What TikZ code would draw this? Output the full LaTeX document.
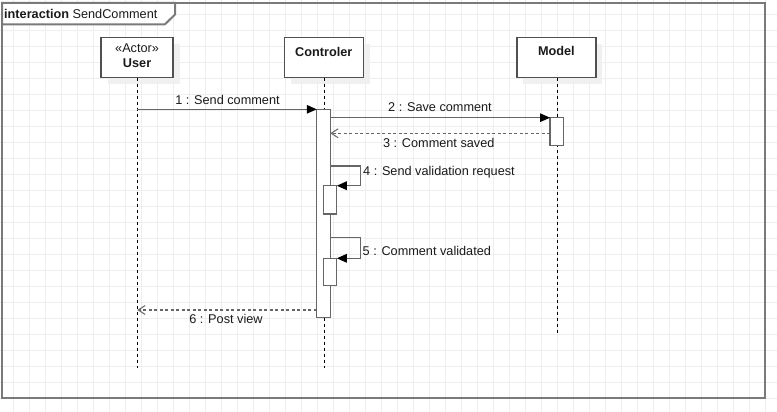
\documentclass[tikz,border=0pt]{standalone}
\usepackage{fontspec}
\setmainfont{Liberation Sans}
\usetikzlibrary{arrows.meta,shadows}
\definecolor{gridc}{HTML}{EEEEEE}
\definecolor{framec}{HTML}{7A7A7A}
\definecolor{linec}{HTML}{666666}
\definecolor{boxc}{HTML}{505050}
\definecolor{txtc}{HTML}{1A1A1A}
\tikzset{
  gridline/.style={draw=gridc, line width=1pt},
  frameline/.style={draw=framec, line width=2pt},
  lifebox/.style={draw=boxc, fill=white, line width=1.3pt, rectangle, minimum width=79pt, minimum height=40pt, inner sep=0pt, outer sep=0pt,
    drop shadow={shadow xshift=6.5pt, shadow yshift=-6.5pt, fill=black!6, opacity=1}},
  lifeline/.style={draw=black, line width=0.9pt, dash pattern=on 3pt off 3pt},
  actbox/.style={draw=linec, fill=white, line width=1.3pt, rectangle, minimum width=13.5pt, inner sep=0pt, outer sep=0pt},
  msg/.style={draw=linec, line width=1.3pt, -{Triangle[length=10pt,width=8.5pt,fill=black,color=black]}},
  ret/.style={draw=linec, line width=1.3pt, dash pattern=on 3pt off 2.5pt, -{Straight Barb[length=7pt,width=9pt,line width=1pt]}},
  lbl/.style={text=txtc, inner sep=0pt, anchor=base, font=\fontsize{12.7}{15}\selectfont},
  lblw/.style={lbl, anchor=base west},
}
\begin{document}
\begin{tikzpicture}[x=1pt,y=-1pt]
\useasboundingbox (0,0) rectangle (777,412);
\fill[white] (0,0) rectangle (777,412);
% grid
\foreach \i in {0,...,47} \draw[gridline] ({13.3+16*\i},0) -- ++(0,412);
\foreach \j in {0,...,24} \draw[gridline] (0,{14.7+16*\j}) -- ++(777,0);
% frame
\draw[frameline] (2,3) rectangle (764.7,398);
\draw[frameline, fill=white, line join=miter] (2,3) -- (175,3) -- (175,14.5) -- (165,24.3) -- (2,24.3) -- cycle;
\node[lblw] (title) at (4,18.3) {\textbf{interaction} SendComment};
% lifeline heads
\node[lifebox, minimum width=72pt] (user) at (137.1,57.7) {};
\node[lifebox] (ctrl) at (323.8,57.7) {};
\node[lifebox] (model) at (556.4,57.7) {};
\node[lbl] (userst) at (137.1,52.3) {«Actor»};
\node[lbl] (username) at (137.1,67.7) {\textbf{User}};
\node[lbl] (ctrlname) at (323.8,56.3) {\textbf{Controler}};
\node[lbl] (modelname) at (556.4,55.3) {\textbf{Model}};
% lifelines
\coordinate (uEnd) at (137.3,368.3);
\coordinate (cEnd) at (324.2,368.3);
\coordinate (mEnd) at (557.4,332.7);
\draw[lifeline] (user.south -| uEnd) -- (uEnd);
\draw[lifeline] (ctrl.south -| cEnd) -- (cEnd);
\draw[lifeline] (model.south -| mEnd) -- (mEnd);
% activations
\node[actbox, minimum height=208.4pt] (a1) at (323.5,213.5) {};
\node[actbox, minimum width=13.3pt, minimum height=27.6pt] (mact) at (556.7,131.5) {};
\node[actbox, minimum height=28.3pt] (n1) at (330,199.85) {};
\node[actbox, minimum height=27.4pt] (n2) at (330,272) {};
% messages
\draw[msg] (a1.north west -| uEnd) -- (a1.north west);
\draw[msg] (a1.east |- mact.north west) -- (mact.north west);
\path (mact.west) ++(0,1.8) coordinate (m3s);
\draw[ret] (m3s) -- (m3s -| a1.east);
\path (a1.north east) ++(0,56.7) coordinate (s4);
\draw[msg, line join=miter] (s4) -- ++(30,0) |- (n1.north east);
\path (a1.north east) ++(0,128.4) coordinate (s5);
\draw[msg, line join=miter] (s5) -- ++(30,0) |- (n2.north east);
\path (a1.south west) ++(0,-7.7) coordinate (s6);
\draw[ret] (s6) -- (s6 -| uEnd);
% labels
\node[lbl] (l1) at (227.5,104) {1 : Send comment};
\node[lbl] (l2) at (440,111.7) {2 : Save comment};
\node[lbl] (l3) at (438.8,147.3) {3 : Comment saved};
\node[lblw] (l4) at (363,175.7) {4 : Send validation request};
\node[lblw] (l5) at (362.5,255.7) {5 : Comment validated};
\node[lbl] (l6) at (226,323.3) {6 : Post view};
\end{tikzpicture}
\end{document}
